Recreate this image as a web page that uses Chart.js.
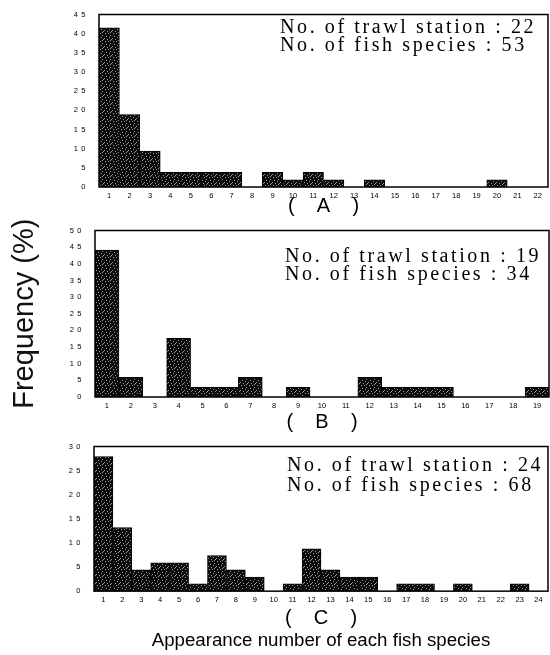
<!DOCTYPE html>
<html>
<head>
<meta charset="utf-8">
<script src="https://cdn.jsdelivr.net/npm/chart.js@4.4.0/dist/chart.umd.min.js"></script>
<style>
  html, body { margin: 0; padding: 0; background: #fff; }
  #wrap { position: relative; width: 550px; height: 655px; }
  #wrap canvas { position: absolute; left: 0; }
</style>
</head>
<body>
<div id="wrap">
  <canvas id="panelA" width="550" height="216" style="top:0;width:550px;height:216px"></canvas>
  <canvas id="panelB" width="550" height="216" style="top:216px;width:550px;height:216px"></canvas>
  <canvas id="panelC" width="550" height="223" style="top:432px;width:550px;height:223px"></canvas>
</div>
<script>
// Appearance number (number of trawl stations a species was caught at)
const appearA = ['1','2','3','4','5','6','7','8','9','10','11','12','13','14','15','16','17','18','19','20','21','22'];
const appearB = ['1','2','3','4','5','6','7','8','9','10','11','12','13','14','15','16','17','18','19'];
const appearC = ['1','2','3','4','5','6','7','8','9','10','11','12','13','14','15','16','17','18','19','20','21','22','23','24'];

// Frequency (%) of species for each appearance number
const freqA = [41.5, 18.9, 9.4, 3.8, 3.8, 3.8, 3.8, 0, 3.8, 1.9, 3.8, 1.9, 0, 1.9, 0, 0, 0, 0, 0, 1.9, 0, 0];
const freqB = [44.1, 5.9, 0, 17.6, 2.9, 2.9, 5.9, 0, 2.9, 0, 0, 5.9, 2.9, 2.9, 2.9, 0, 0, 0, 2.9];
const freqC = [27.9, 13.2, 4.4, 5.9, 5.9, 1.5, 7.4, 4.4, 2.9, 0, 1.5, 8.8, 4.4, 2.9, 2.9, 0, 1.5, 1.5, 0, 1.5, 0, 0, 1.5, 0];

// Y axis ranges (ticks every 5 %)
const yMaxA = 45;
const yMaxB = 50;
const yMaxC = 30;

// Survey summary per area
const panelNames = ['A', 'B', 'C'];
const trawlStations = [22, 19, 24];
const fishSpecies = [53, 34, 68];

// Linear scale whose tick labels are printed with widened digit spacing
class SpacedLinearScale extends Chart.LinearScale {
  drawLabels(chartArea) {
    const ctx = this.ctx;
    ctx.save();
    ctx.letterSpacing = '3.5px';
    super.drawLabels(chartArea);
    ctx.restore();
  }
}
SpacedLinearScale.id = 'spacedLinear';
SpacedLinearScale.defaults = Chart.LinearScale.defaults;
Chart.register(SpacedLinearScale);

// Dark bar fill with light speckles
function speckle() {
  const c = document.createElement('canvas');
  c.width = 8; c.height = 8;
  const g = c.getContext('2d');
  g.fillStyle = '#0b0b0b';
  g.fillRect(0, 0, 8, 8);
  g.fillStyle = '#9a9a9a';
  [[1,1],[4,1],[6,3],[2,4],[5,5],[0,6],[3,7],[7,7],[6,0]].forEach(([x, y]) => g.fillRect(x, y, 1, 1));
  return g.createPattern(c, 'repeat');
}
const barFill = speckle();

// Box around the plotting area
const framePlugin = {
  id: 'frame',
  afterDatasetsDraw(chart) {
    const { ctx, chartArea: a } = chart;
    ctx.save();
    ctx.strokeStyle = '#000';
    ctx.lineWidth = 1.5;
    ctx.strokeRect(a.left, a.top, a.right - a.left, a.bottom - a.top);
    ctx.restore();
  }
};

// Two-line survey note in the upper right of each panel
const notesPlugin = {
  id: 'notes',
  afterDraw(chart, args, opts) {
    if (!opts || !opts.lines) return;
    const { ctx, chartArea: a } = chart;
    ctx.save();
    ctx.font = '20px "Liberation Serif", "Times New Roman", serif';
    ctx.letterSpacing = '2.6px';
    ctx.fillStyle = '#000';
    ctx.textAlign = 'left';
    ctx.textBaseline = 'alphabetic';
    opts.lines.forEach((t, i) => ctx.fillText(t, opts.x, a.top + opts.dy[i]));
    ctx.restore();
  }
};

function makePanel(canvasId, idx, labels, values, yMax, lay) {
  const scales = {
    x: {
      type: 'category',
      offset: true,
      grid: { display: false, drawTicks: false },
      border: { display: false },
      ticks: {
        color: '#000',
        padding: lay.xTickPad,
        autoSkip: false,
        maxRotation: 0,
        font: { family: 'Liberation Sans, Arial, sans-serif', size: 7.5 }
      },
      title: {
        display: true,
        text: '(    ' + panelNames[idx] + '    )',
        color: '#000',
        font: { family: 'Liberation Sans, Arial, sans-serif', size: 20, lineHeight: 1 },
        padding: { top: 0, bottom: lay.xTitlePad }
      },
      afterFit(s) { s.height = lay.xHeight; }
    },
    y: {
      type: 'spacedLinear',
      min: 0,
      max: yMax,
      grid: { display: false, drawTicks: false },
      border: { display: false },
      ticks: {
        stepSize: 5,
        color: '#000',
        padding: 10,
        font: { family: 'Liberation Sans, Arial, sans-serif', size: 7.5 }
      },
      title: lay.yTitle ? {
        display: true,
        text: 'Frequency (%)',
        color: '#111',
        font: { family: 'Liberation Sans, Arial, sans-serif', size: 29 },
        padding: { top: 7.6, bottom: 0 }
      } : { display: false },
      afterFit(s) { s.width = lay.yWidth; }
    }
  };

  return new Chart(document.getElementById(canvasId), {
    type: 'bar',
    data: {
      labels: labels,
      datasets: [{
        data: values,
        backgroundColor: barFill,
        borderColor: '#000',
        borderWidth: 1,
        borderSkipped: false,
        barPercentage: 1,
        categoryPercentage: 1
      }]
    },
    options: {
      responsive: false,
      maintainAspectRatio: false,
      animation: false,
      events: [],
      layout: { padding: { top: lay.padTop, right: lay.padRight, left: 0, bottom: 0 } },
      scales: scales,
      plugins: {
        legend: { display: false },
        tooltip: { enabled: false },
        title: lay.bottomTitle ? {
          display: true,
          position: 'bottom',
          fullSize: false,
          text: 'Appearance number of each fish species',
          color: '#000',
          font: { family: 'Liberation Sans, Arial, sans-serif', size: 18.7, weight: 'normal' },
          padding: { top: 0, bottom: 3 }
        } : { display: false },
        notes: {
          lines: [
            'No. of trawl station : ' + trawlStations[idx],
            'No. of fish species : ' + fishSpecies[idx]
          ],
          x: lay.noteX,
          dy: lay.noteDy
        }
      }
    },
    plugins: [framePlugin, notesPlugin]
  });
}

makePanel('panelA', 0, appearA, freqA, yMaxA, {
  padTop: 9, padRight: 2, yWidth: 99, xHeight: 29, xTickPad: 4, xTitlePad: 0,
  noteX: 280, noteDy: [18, 36]
});
makePanel('panelB', 1, appearB, freqB, yMaxB, {
  padTop: 8, padRight: 1, yWidth: 95, xHeight: 35, xTickPad: 4, xTitlePad: 0,
  noteX: 285, noteDy: [31, 49], yTitle: true
});
makePanel('panelC', 2, appearC, freqC, yMaxC, {
  padTop: 7, padRight: 2, yWidth: 94, xHeight: 38.4, xTickPad: 4, xTitlePad: 1.4,
  noteX: 287, noteDy: [24, 44], bottomTitle: true
});
</script>
</body>
</html>
